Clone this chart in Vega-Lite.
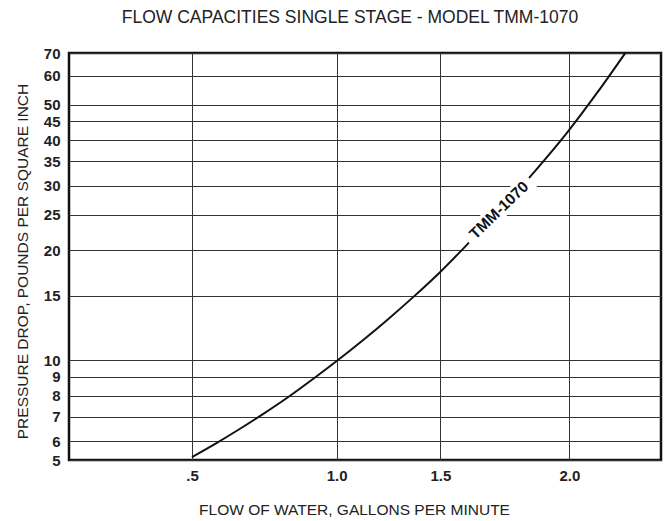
{
  "$schema": "https://vega.github.io/schema/vega-lite/v6.json",
  "width": 592,
  "height": 407,
  "autosize": {"type": "none"},
  "padding": {"left": 69, "top": 53, "right": 4, "bottom": 61},
  "background": "white",
  "title": {
    "text": "FLOW CAPACITIES SINGLE STAGE - MODEL TMM-1070",
    "font": "Liberation Sans",
    "fontSize": 17.5,
    "fontWeight": "normal",
    "color": "#222",
    "anchor": "middle",
    "frame": "group",
    "baseline": "alphabetic",
    "offset": 6,
    "dx": -15
  },
  "config": {
    "view": {"stroke": "#111", "strokeWidth": 2.5},
    "axis": {
      "domain": false,
      "ticks": false,
      "grid": true,
      "gridColor": "#333",
      "gridWidth": 1,
      "labelFont": "Liberation Sans",
      "labelFontWeight": "bold",
      "labelFontSize": 15,
      "labelColor": "#222",
      "titleFont": "Liberation Sans",
      "titleFontWeight": "normal",
      "titleFontSize": 15.5,
      "titleColor": "#222"
    }
  },
  "datasets": {
    "curve": [
      {"flow": 0.5, "psi": 5.43},
      {"flow": 0.583, "psi": 5.92},
      {"flow": 0.666, "psi": 6.49},
      {"flow": 0.749, "psi": 7.15},
      {"flow": 0.839, "psi": 7.99},
      {"flow": 0.925, "psi": 8.96},
      {"flow": 1.0, "psi": 9.94},
      {"flow": 1.122, "psi": 11.28},
      {"flow": 1.248, "psi": 12.94},
      {"flow": 1.373, "psi": 14.94},
      {"flow": 1.4986, "psi": 17.4},
      {"flow": 1.615, "psi": 21.1},
      {"flow": 1.743, "psi": 26.3},
      {"flow": 1.867, "psi": 32.9},
      {"flow": 1.99, "psi": 41.78},
      {"flow": 2.107, "psi": 53.8},
      {"flow": 2.216, "psi": 69.2}
    ],
    "label": [
      {"flow": 1.7275, "psi": 25.7, "text": "TMM-1070"}
    ]
  },
  "encoding": {
    "x": {
      "field": "flow",
      "type": "quantitative",
      "scale": {
        "domain": [0.075, 0.5, 1.0, 1.5, 2.0, 2.354],
        "range": [0, 123, 267.7, 371.3, 500.3, 592],
        "nice": false,
        "zero": false
      },
      "axis": {
        "values": [0.5, 1.0, 1.5, 2.0],
        "labelExpr": "datum.value == 0.5 ? '.5' : format(datum.value, '.1f')",
        "labelPadding": 8,
        "labelFlush": false,
        "title": "FLOW OF WATER, GALLONS PER MINUTE",
        "titleX": 285,
        "titleY": 49,
        "titleBaseline": "middle",
        "titleAlign": "center"
      }
    },
    "y": {
      "field": "psi",
      "type": "quantitative",
      "scale": {"type": "log", "domain": [5.33, 69.2], "nice": false, "zero": false},
      "axis": {
        "values": [5.33, 6, 7, 8, 9, 10, 15, 20, 25, 30, 35, 40, 45, 50, 60, 69.2],
        "labelExpr": "datum.value < 5.5 ? '5' : datum.value > 69 ? '70' : format(datum.value, 'd')",
        "labelPadding": 9,
        "labelFlush": false,
        "title": "PRESSURE DROP, POUNDS PER SQUARE INCH",
        "titleAngle": -90,
        "titleX": -47,
        "titleY": 208,
        "titleBaseline": "middle",
        "titleAlign": "center"
      }
    }
  },
  "layer": [
    {
      "data": {"name": "curve"},
      "mark": {"type": "line", "color": "#111", "strokeWidth": 2, "interpolate": "monotone", "clip": true}
    },
    {
      "data": {"name": "label"},
      "mark": {
        "type": "point",
        "shape": "M -1 -0.21 L 1 -0.21 L 1 0.21 L -1 0.21 Z",
        "filled": true,
        "fill": "white",
        "stroke": null,
        "opacity": 1,
        "size": 7744,
        "angle": 316
      }
    },
    {
      "data": {"name": "label"},
      "mark": {
        "type": "text",
        "font": "Liberation Sans",
        "fontWeight": "bold",
        "fontSize": 15.5,
        "color": "#111",
        "angle": 316,
        "align": "center",
        "baseline": "middle"
      },
      "encoding": {"text": {"field": "text"}}
    }
  ]
}
